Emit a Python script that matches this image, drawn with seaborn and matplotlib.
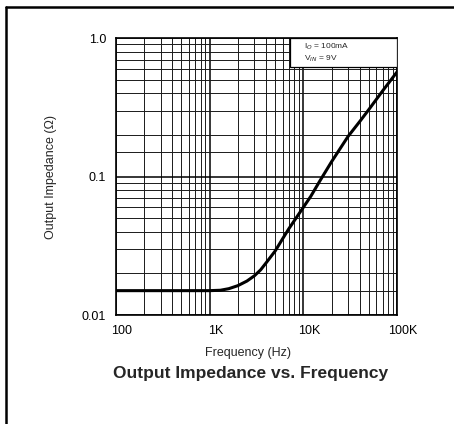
import numpy as np
import pandas as pd
import matplotlib.pyplot as plt
import matplotlib.ticker as mticker
import matplotlib.transforms as mtrans
import seaborn as sns

# courbe
freq_hz = [100, 500, 1000, 1300, 1600, 2000, 2500, 3000, 3500, 4000, 5000,
           6000, 7000, 8500, 10000, 12000, 15000, 20000, 30000, 40000,
           50000, 70000, 100000]
impedance_ohm = [0.015, 0.015, 0.015, 0.0151, 0.0155, 0.0163, 0.0176, 0.0192,
                 0.0212, 0.0238, 0.029, 0.0355, 0.042, 0.051, 0.06, 0.072,
                 0.093, 0.128, 0.195, 0.25, 0.305, 0.415, 0.57]

x_ticks = [100, 1000, 10000, 100000]
x_labels = ["100", "1K", "10K", "100K"]
y_ticks = [0.01, 0.1, 1.0]
y_labels = ["0.01", "0.1", "1.0"]

df = pd.DataFrame({"freq": freq_hz, "z": impedance_ohm})

sns.set_style("white")
plt.rcParams["font.family"] = ["Liberation Sans", "DejaVu Sans"]

fig = plt.figure(figsize=(4.54, 4.24), dpi=100)
ax = fig.add_axes([0.2555, 0.257, 0.619, 0.653])

sns.lineplot(data=df, x="freq", y="z", ax=ax, color="black", linewidth=2.2,
             solid_joinstyle="round", solid_capstyle="round", zorder=4)

ax.set_xscale("log")
ax.set_yscale("log")
ax.set_xlim(100, 100000)
ax.set_ylim(0.01, 1.0)
ax.xaxis.set_major_locator(mticker.FixedLocator(x_ticks))
ax.xaxis.set_major_formatter(mticker.FixedFormatter(x_labels))
ax.yaxis.set_major_locator(mticker.FixedLocator(y_ticks))
ax.yaxis.set_major_formatter(mticker.FixedFormatter(y_labels))
ax.xaxis.set_minor_locator(mticker.LogLocator(base=10, subs=np.arange(2, 10)))
ax.yaxis.set_minor_locator(mticker.LogLocator(base=10, subs=[1.5, 2, 3, 4, 5, 6, 7, 8, 9]))
ax.xaxis.set_minor_formatter(mticker.NullFormatter())
ax.yaxis.set_minor_formatter(mticker.NullFormatter())

ax.grid(True, which="major", color="black", linewidth=1.1)
ax.grid(True, which="minor", color="#1a1a1a", linewidth=0.7)
ax.tick_params(which="both", length=0, labelsize=9, colors="black")
ax.tick_params(axis="x", pad=7)
ax.tick_params(axis="y", pad=7)
# les étiquettes x sont un peu décalées à droite sur l'original
shift = mtrans.ScaledTranslation(6 / 100, 0, fig.dpi_scale_trans)
for lab in ax.get_xticklabels():
    lab.set_transform(lab.get_transform() + shift)
for s in ax.spines.values():
    s.set_color("black")
    s.set_linewidth(1.2)

ax.set_xlabel("Frequency (Hz)", fontsize=9)
ax.set_ylabel("Output Impedance (\u03a9)", fontsize=9)
ax.xaxis.set_label_coords(0.47, -0.115)
ax.yaxis.set_label_coords(-0.21, 0.5)

# encadré des conditions
ax.add_patch(plt.Rectangle((0.62, 0.895), 0.38, 0.105, transform=ax.transAxes,
                           facecolor="white", edgecolor="black", linewidth=0.9,
                           zorder=5))
ax.text(0.67, 0.968, "I$_O$ = 100mA", transform=ax.transAxes, fontsize=6,
        va="center", ha="left", zorder=6)
ax.text(0.67, 0.925, "V$_{IN}$ = 9V", transform=ax.transAxes, fontsize=6,
        va="center", ha="left", zorder=6)

fig.text(0.551, 0.12, "Output Impedance vs. Frequency", ha="center",
         va="center", fontsize=12.5, fontweight="bold")

# cadre de la page
fig.add_artist(plt.Line2D([0.013, 0.013], [0.0, 0.983], color="black", linewidth=1.8))
fig.add_artist(plt.Line2D([0.013, 1.0], [0.983, 0.983], color="black", linewidth=1.8))

fig.savefig("out.png", dpi=100)
